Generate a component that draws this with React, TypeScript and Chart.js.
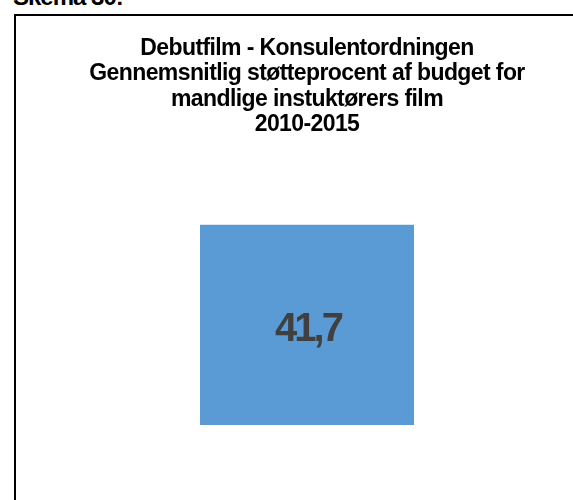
import React, { useEffect, useRef } from "react";
import { Chart, registerables } from "chart.js";

Chart.register(...registerables);

const heading = "Skema 30:";
const titleLines = [
  "Debutfilm - Konsulentordningen",
  "Gennemsnitlig støtteprocent af budget for",
  "mandlige instuktørers film",
  "2010-2015",
];
const categories = ["Mandlige instruktører"];
const values = [41.7];
const yMin = 0;
const yMax = 50;

const FONT = "'Liberation Sans', Arial, sans-serif";

const setupPlugin = {
  id: "setupSpacing",
  beforeDraw(chart: any) {
    (chart.ctx as any).letterSpacing = "-0.6px";
  },
};

const valueLabelPlugin = {
  id: "valueLabels",
  afterDatasetsDraw(chart: any) {
    const ctx = chart.ctx;
    const meta = chart.getDatasetMeta(0);
    const data = chart.data.datasets[0].data as number[];
    meta.data.forEach((el: any, i: number) => {
      const { x, y, base } = el.getProps(["x", "y", "base"], true);
      ctx.save();
      (ctx as any).letterSpacing = "-3px";
      ctx.font = `bold 40px ${FONT}`;
      ctx.fillStyle = "#404040";
      ctx.textAlign = "center";
      ctx.textBaseline = "middle";
      const txt = data[i].toFixed(1).replace(".", ",");
      ctx.fillText(txt, x + 1, (y + base) / 2 + 5);
      ctx.restore();
    });
  },
};

export default function App() {
  const canvasRef = useRef<HTMLCanvasElement | null>(null);

  useEffect(() => {
    if (!canvasRef.current) return;
    const chart = new Chart(canvasRef.current, {
      type: "bar",
      data: {
        labels: categories,
        datasets: [
          {
            data: values,
            backgroundColor: "#5B9BD5",
            borderWidth: 0,
            barPercentage: 0.3677,
            categoryPercentage: 1,
          },
        ],
      },
      options: {
        responsive: true,
        maintainAspectRatio: false,
        animation: false,
        layout: { padding: { top: 0, left: 0, right: 0, bottom: 75 } },
        plugins: {
          legend: { display: false },
          tooltip: { enabled: false },
          title: {
            display: true,
            text: titleLines,
            color: "#000000",
            font: { family: FONT, size: 23, weight: "bold", lineHeight: 1.1 },
            padding: { top: 20, bottom: 47.8 },
          },
        },
        scales: {
          x: { display: false },
          y: { display: false, min: yMin, max: yMax },
        },
      },
      plugins: [setupPlugin, valueLabelPlugin],
    } as any);
    return () => chart.destroy();
  }, []);

  return (
    <div
      style={{
        position: "fixed",
        left: 0,
        top: 0,
        width: 573,
        height: 500,
        overflow: "hidden",
        background: "#ffffff",
      }}
    >
      <div
        style={{
          position: "absolute",
          left: 13,
          top: -15,
          fontFamily: FONT,
          fontWeight: "bold",
          fontSize: 24,
          lineHeight: "24px",
          letterSpacing: "-1px",
          color: "#000",
          whiteSpace: "nowrap",
        }}
      >
        {heading}
      </div>
      <div
        style={{
          position: "absolute",
          left: 14,
          top: 14,
          width: 582,
          height: 500,
          border: "2px solid #000",
          background: "#fff",
        }}
      >
        <div style={{ position: "relative", width: 582, height: 484 }}>
          <canvas ref={canvasRef} />
        </div>
      </div>
    </div>
  );
}
